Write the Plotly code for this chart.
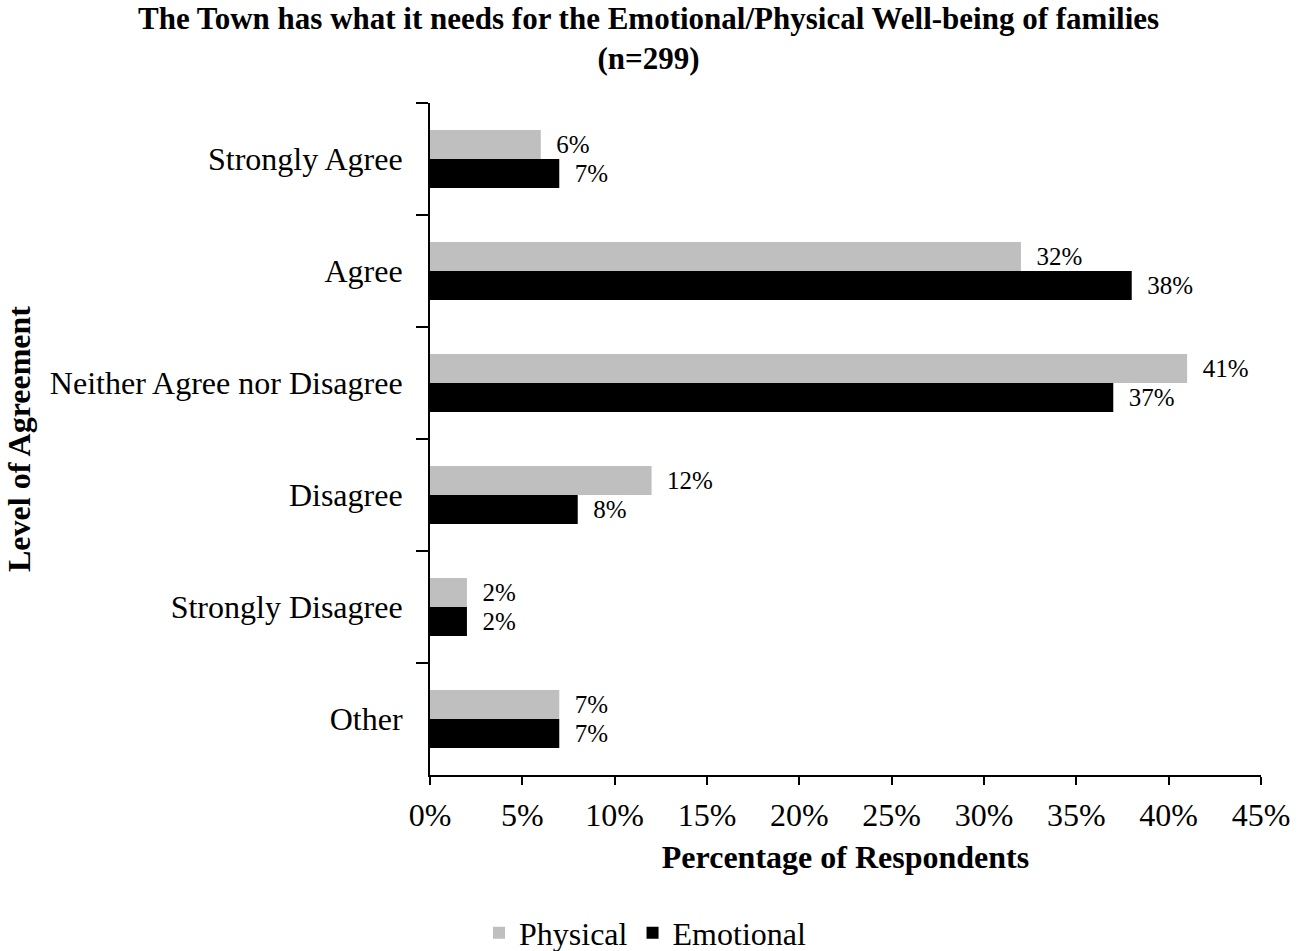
import plotly.graph_objects as go

categories = ["Strongly Agree", "Agree", "Neither Agree nor Disagree", "Disagree", "Strongly Disagree", "Other"]
physical = [0.06, 0.32, 0.41, 0.12, 0.02, 0.07]
emotional = [0.07, 0.38, 0.37, 0.08, 0.02, 0.07]
x_ticks = [0, 0.05, 0.10, 0.15, 0.20, 0.25, 0.30, 0.35, 0.40, 0.45]

FONT = "Liberation Serif, Times New Roman, serif"
FS = 32
LBL = 25

fig = go.Figure()
fig.add_trace(go.Bar(
    y=categories, x=physical, orientation="h", name="Physical",
    marker=dict(color="#BFBFBF", line=dict(width=0)),
    texttemplate="\u00a0\u00a0%{x:.0%}", textposition="outside", constraintext="none",
    textfont=dict(family=FONT, size=LBL, color="black"), cliponaxis=False,
))
fig.add_trace(go.Bar(
    y=categories, x=emotional, orientation="h", name="Emotional",
    marker=dict(color="#000000", line=dict(width=0)),
    texttemplate="\u00a0\u00a0%{x:.0%}", textposition="outside", constraintext="none",
    textfont=dict(family=FONT, size=LBL, color="black"), cliponaxis=False,
))

fig.update_layout(
    width=1310, height=951,
    barmode="group", bargap=0.48, bargroupgap=0,
    plot_bgcolor="white", paper_bgcolor="white",
    font=dict(family=FONT, size=FS, color="black"),
    margin=dict(l=430, r=49, t=103, b=176, autoexpand=False),
    annotations=[
        dict(text="<b>The Town has what it needs for the Emotional/Physical Well-being of families<br>(n=299)</b>",
             xref="paper", yref="paper", x=(648 - 430) / 831, y=(775 - 39) / 672,
             xanchor="center", yanchor="middle", showarrow=False,
             font=dict(family=FONT, size=31, color="black")),
    ],
    xaxis=dict(
        range=[0, 0.45], tickvals=x_ticks, tickformat=".0%",
        showgrid=False, zeroline=False,
        showline=True, linecolor="black", linewidth=2,
        ticks="outside", ticklen=8, tickwidth=2, tickcolor="black",
        tickfont=dict(family=FONT, size=FS),
        ticklabelstandoff=3,
        title=dict(text="<b>Percentage of Respondents</b>", font=dict(family=FONT, size=FS), standoff=13),
    ),
    yaxis=dict(
        categoryorder="array", categoryarray=categories, autorange="reversed",
        showgrid=False, zeroline=False,
        showline=True, linecolor="black", linewidth=2,
        ticks="outside", ticklen=12, tickwidth=2, tickcolor="black",
        tickson="boundaries",
        tickfont=dict(family=FONT, size=FS),
        ticklabelstandoff=19,
        title=dict(text="<b>Level of Agreement</b>", font=dict(family=FONT, size=FS), standoff=10),
    ),
    legend=dict(
        orientation="h", xref="container", yref="container",
        x=645 / 1310, xanchor="center", y=1 - 933 / 951, yanchor="middle",
        font=dict(family=FONT, size=FS), traceorder="normal",
    ),
)

fig.write_html("out.html", config={"displayModeBar": False},
               post_script="document.body.style.margin='0';document.body.style.padding='0';")
